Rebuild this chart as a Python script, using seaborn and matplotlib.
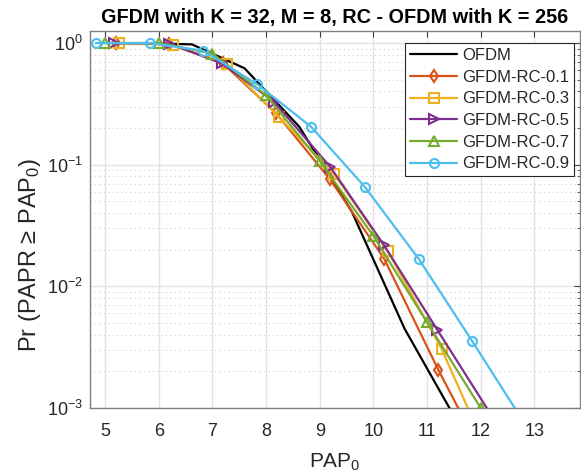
import numpy as np
import pandas as pd
import matplotlib
matplotlib.use("Agg")
import matplotlib.pyplot as plt
import seaborn as sns
from matplotlib.ticker import LogLocator, NullLocator, NullFormatter, FixedLocator

# ---- data ----
x_ofdm = [5.62, 6.62, 7.60, 8.62, 9.60, 10.58, 11.60]
p_ofdm = [1.0, 0.975, 0.62, 0.205, 0.041, 0.0045, 0.00072]

x_rc01 = [5.20, 6.20, 7.20, 8.19, 9.19, 10.20, 11.21, 12.20]
p_rc01 = [1.0, 0.98, 0.68, 0.264, 0.076, 0.0169, 0.00206, 0.0003]

x_rc03 = [5.26, 6.27, 7.27, 8.24, 9.27, 10.27, 11.27, 12.27]
p_rc03 = [1.0, 0.96, 0.67, 0.247, 0.0835, 0.0194, 0.00307, 0.00031]

x_rc05 = [5.17, 6.20, 7.18, 8.15, 9.20, 10.20, 11.19, 12.20]
p_rc05 = [1.0, 0.99, 0.68, 0.329, 0.0954, 0.0217, 0.0044, 0.00087]

x_rc07 = [5, 6, 7, 8, 9, 10, 11, 12]
p_rc07 = [1.0, 1.0, 0.82, 0.373, 0.107, 0.026, 0.00506, 0.001]

x_rc09 = [4.83, 5.83, 6.83, 7.84, 8.84, 9.84, 10.85, 11.84, 12.84]
p_rc09 = [1.0, 1.0, 0.865, 0.457, 0.205, 0.0657, 0.0167, 0.00355, 0.00072]

series_names = ["OFDM", "GFDM-RC-0.1", "GFDM-RC-0.3", "GFDM-RC-0.5",
                "GFDM-RC-0.7", "GFDM-RC-0.9"]
series_x = [x_ofdm, x_rc01, x_rc03, x_rc05, x_rc07, x_rc09]
series_p = [p_ofdm, p_rc01, p_rc03, p_rc05, p_rc07, p_rc09]
x_ticks = [5, 6, 7, 8, 9, 10, 11, 12, 13]

colors = ["#000000", "#D95319", "#EDB120", "#7E2F8E", "#77AC30", "#4DBEEE"]
markers = [None, "d", "s", ">", "^", "o"]

# ---- style ----
sns.set_theme(style="white")
plt.rcParams["font.family"] = ["Liberation Sans", "DejaVu Sans"]
plt.rcParams["mathtext.fontset"] = "custom"
plt.rcParams["mathtext.rm"] = "Liberation Sans"
plt.rcParams["mathtext.it"] = "Liberation Sans:italic"
plt.rcParams["mathtext.bf"] = "Liberation Sans:bold"

fig = plt.figure(figsize=(5.81, 4.74), dpi=100)
ax = fig.add_axes([90 / 581, 66 / 474, 490 / 581, 377 / 474])

frames = []
for name, xs, ps in zip(series_names, series_x, series_p):
    frames.append(pd.DataFrame({"PAP0": xs, "Pr": ps, "series": name}))
df = pd.concat(frames, ignore_index=True)

for name, col, mk in zip(series_names, colors, markers):
    sub = df[df["series"] == name]
    kw = dict(x="PAP0", y="Pr", data=sub, ax=ax, color=col, label=name,
              sort=False, errorbar=None, linewidth=1.6, zorder=3)
    if mk is not None:
        kw.update(marker=mk, markersize=6.5, markerfacecolor="none",
                  markeredgecolor=col, markeredgewidth=1.5)
    sns.lineplot(**kw)

ax.set_yscale("log")
ax.set_xlim(4.72, 13.85)
ax.set_ylim(1e-3, 1.256)
ax.xaxis.set_major_locator(FixedLocator(x_ticks))
ax.xaxis.set_minor_locator(NullLocator())
ax.yaxis.set_major_locator(LogLocator(base=10, numticks=10))
ax.yaxis.set_minor_locator(LogLocator(base=10, subs=np.arange(2, 10), numticks=20))
ax.yaxis.set_minor_formatter(NullFormatter())

ax.set_axisbelow(True)
ax.grid(which="major", axis="both", color="#e2e2e2", linewidth=1.0, linestyle="-")
ax.yaxis.grid(which="minor", color="#cfcfcf", linewidth=0.8, linestyle=(0, (1, 3)))

for s in ax.spines.values():
    s.set_color("#808080")
    s.set_linewidth(1.0)

ax.tick_params(which="both", direction="in", top=True, right=True,
               color="#404040", labelcolor="#262626")
ax.tick_params(which="major", length=4, width=0.8, labelsize=13)
ax.tick_params(which="minor", length=2, width=0.6)
ax.tick_params(axis="x", which="major", pad=11)
ax.tick_params(axis="y", which="major", pad=5)

ax.set_xlabel("PAP$_0$", fontsize=15, color="#262626")
ax.set_ylabel("Pr (PAPR \u2265 PAP$_0$)", fontsize=17, color="#262626")
ax.xaxis.set_label_coords(0.5, -0.115)
ax.yaxis.set_label_coords(-0.095, 0.405)
ax.set_title("GFDM with K = 32, M = 8, RC - OFDM with K = 256",
             fontsize=14.3, fontweight="bold", color="black", pad=6)

leg = ax.legend(loc="upper right", bbox_to_anchor=(0.988, 0.968),
                borderaxespad=0, fontsize=12, frameon=True, fancybox=False,
                handlelength=2.8, handletextpad=0.3, labelspacing=0.4,
                borderpad=0.3)
leg.get_frame().set_edgecolor("#262626")
leg.get_frame().set_linewidth(0.8)
leg.get_frame().set_facecolor("white")
leg.get_frame().set_alpha(1.0)

fig.savefig("out.png", dpi=100)
